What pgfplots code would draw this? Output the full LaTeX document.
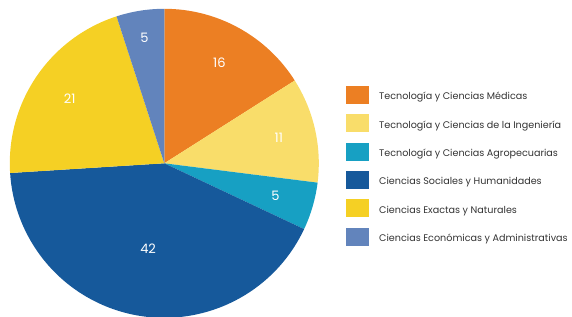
\documentclass[border=0pt]{standalone}
\usepackage{pgfplots}
\pgfplotsset{compat=1.18}
\usepackage{pgfplotstable}
\usepackage{fontspec}
\setmainfont{Poppins}
\definecolor{c0}{HTML}{EC7F23}
\definecolor{c1}{HTML}{F9DD6A}
\definecolor{c2}{HTML}{17A0C3}
\definecolor{c3}{HTML}{16599B}
\definecolor{c4}{HTML}{F5D024}
\definecolor{c5}{HTML}{6284BC}
\definecolor{txt}{HTML}{333333}

\pgfplotstableread[col sep=comma]{
v,name,lr
16,Tecnología y Ciencias Médicas,0.74
11,Tecnología y Ciencias de la Ingeniería,0.76
5,Tecnología y Ciencias Agropecuarias,0.75
42,Ciencias Sociales y Humanidades,0.56
21,Ciencias Exactas y Naturales,0.74
5,Ciencias Económicas y Administrativas,0.82
}\piedata

\newcommand\cum{90}
\pgfplotsforeachungrouped \i in {0,...,5}{%
  \pgfplotstablegetelem{\i}{v}\of\piedata
  \expandafter\xdef\csname val\i\endcsname{\pgfplotsretval}%
  \pgfmathsetmacro\endang{\cum-3.6*\pgfplotsretval}%
  \pgfmathsetmacro\midang{(\cum+\endang)/2}%
  \expandafter\xdef\csname sa\i\endcsname{\cum}%
  \expandafter\xdef\csname ea\i\endcsname{\endang}%
  \expandafter\xdef\csname ma\i\endcsname{\midang}%
  \pgfplotstablegetelem{\i}{lr}\of\piedata
  \expandafter\xdef\csname lr\i\endcsname{\pgfplotsretval}%
  \pgfplotstablegetelem{\i}{name}\of\piedata
  \expandafter\xdef\csname nm\i\endcsname{\pgfplotsretval}%
  \xdef\cum{\endang}%
}

\begin{document}
\begin{tikzpicture}
\begin{axis}[
  width=572pt, height=316pt, scale only axis,
  xmin=0, xmax=572, ymin=0, ymax=316,
  hide axis, clip=true,
]
\pgfplotsinvokeforeach{0,...,5}{
  \fill[c#1] (axis cs:164.3,152.7) -- ++(\csname sa#1\endcsname:154.5pt)
     arc[start angle=\csname sa#1\endcsname, end angle=\csname ea#1\endcsname, radius=154.5pt] -- cycle;
}
\pgfplotsinvokeforeach{0,...,5}{
  \node[text=white, font=\fontsize{13}{15}\selectfont, inner sep=0pt]
    at ([shift={(\csname ma#1\endcsname:{\csname lr#1\endcsname*154.5pt})}]axis cs:164.3,152.7) {\csname val#1\endcsname};
  \fill[c#1] (axis cs:346,{316-86-28.34*#1}) rectangle (axis cs:369,{316-104-28.34*#1});
  \node[anchor=west, text=txt, inner sep=0pt, font=\fontsize{9.6}{12}\selectfont]
    at (axis cs:379,{316-97.5-28.34*#1}) {\csname nm#1\endcsname};
}
\end{axis}
\pgfresetboundingbox
\path (0,0) rectangle (572pt,316pt);
\end{tikzpicture}
\end{document}
